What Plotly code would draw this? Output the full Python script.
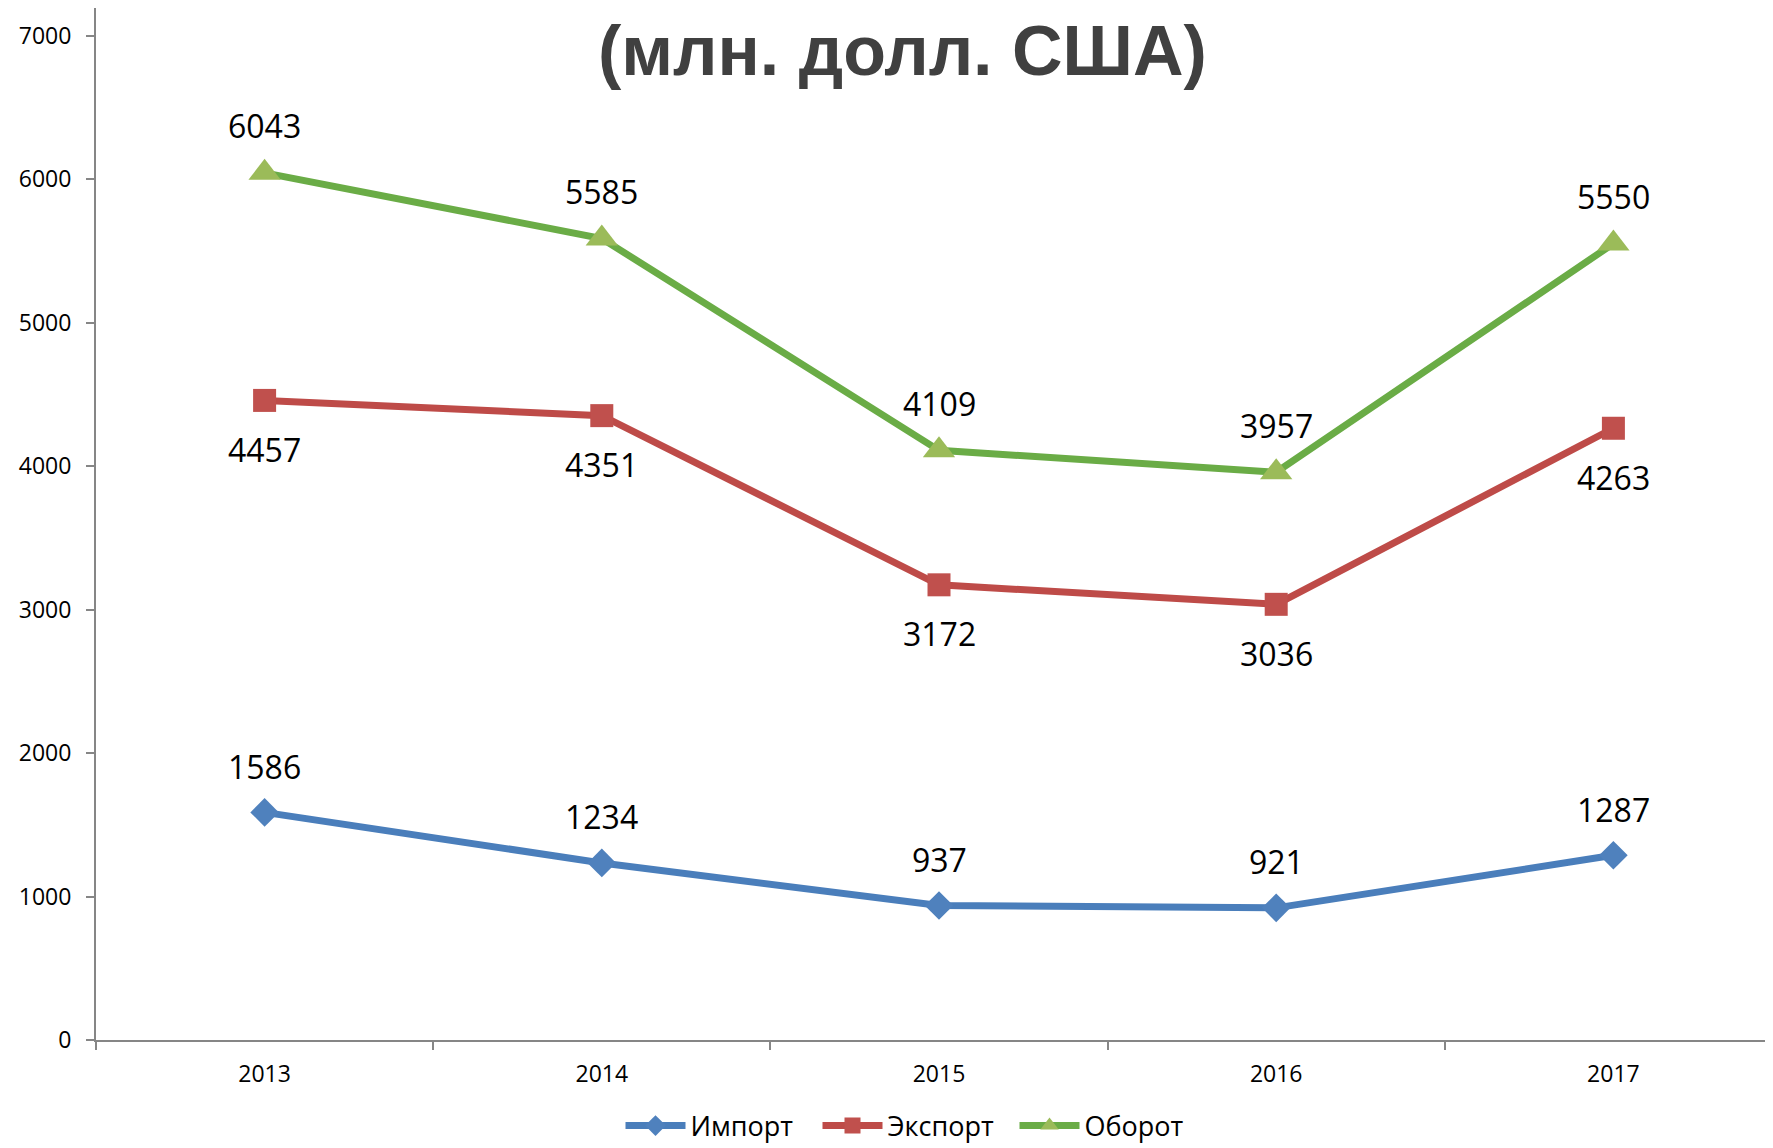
import plotly.graph_objects as go

years = ["2013", "2014", "2015", "2016", "2017"]
import_vals = [1586, 1234, 937, 921, 1287]
export_vals = [4457, 4351, 3172, 3036, 4263]
turnover_vals = [6043, 5585, 4109, 3957, 5550]

series_names = ["Импорт", "Экспорт", "Оборот"]
title_text = "(млн. долл. США)"
y_ticks = [0, 1000, 2000, 3000, 4000, 5000, 6000, 7000]

# page body has an 8px default margin; work in screen coords minus OFF
OFF = 8
W, H = 1773 - OFF, 1148 - OFF
AX_L, AX_T, AX_B = 96 - OFF, 7 - OFF, 1040 - OFF   # plot area edges in figure px
ML, MR, MT, MB = AX_L, 0, max(AX_T, 0), H - AX_B
plot_w = W - ML - MR
plot_h = H - MT - MB

fig = go.Figure()

fig.add_trace(go.Scatter(
    x=years, y=import_vals, name=series_names[0], mode="lines+markers",
    line=dict(color="#4A7EBB", width=7),
    marker=dict(symbol="diamond", size=22, color="#4F81BD"),
))
fig.add_trace(go.Scatter(
    x=years, y=export_vals, name=series_names[1], mode="lines+markers",
    line=dict(color="#BE4B48", width=7),
    marker=dict(symbol="square", size=23, color="#C0504D"),
))
fig.add_trace(go.Scatter(
    x=years, y=turnover_vals, name=series_names[2], mode="lines+markers",
    line=dict(color="#6AAC46", width=7),
    marker=dict(symbol="triangle-up", size=28, color="#9BBB59"),
))

annotations = []
label_font = dict(family="Open Sans, Noto Sans, sans-serif", size=32, color="#000000")
for vals, shift in ((import_vals, 46), (export_vals, -49), (turnover_vals, 47)):
    for i, yv in enumerate(vals):
        annotations.append(dict(
            x=i, y=yv, xref="x", yref="y", text=str(yv), showarrow=False,
            yshift=shift, yanchor="middle", xanchor="center", font=label_font,
        ))

title_cx, title_cy = 902 - OFF, 51 - OFF
annotations.append(dict(
    x=(title_cx - ML) / plot_w, y=(AX_B - title_cy) / plot_h,
    xref="paper", yref="paper", text="<b>" + title_text + "</b>",
    showarrow=False, xanchor="center", yanchor="middle",
    font=dict(family="Liberation Sans, Arial, sans-serif", size=70, color="#404040"),
))

unit_px = 337.2
x_max = -0.5 + plot_w / unit_px
y_px_per_unit = 143.5 / 1000
y_max = plot_h / y_px_per_unit

leg_cx, leg_cy = 916 - OFF, 1126 - OFF

fig.update_layout(
    width=W, height=H,
    margin=dict(l=ML, r=MR, t=MT, b=MB, pad=0),
    paper_bgcolor="white", plot_bgcolor="white",
    showlegend=True,
    legend=dict(
        orientation="h", xref="container", yref="container",
        x=leg_cx / W, y=1 - leg_cy / H,
        xanchor="center", yanchor="middle",
        font=dict(family="Open Sans, Noto Sans, sans-serif", size=27, color="#000000"),
        itemwidth=60, tracegroupgap=0, entrywidth=122,
    ),
    annotations=annotations,
    xaxis=dict(
        type="category", range=[-0.5, x_max],
        showline=True, linecolor="#868686", linewidth=2,
        ticks="outside", ticklen=8, tickcolor="#868686", tickwidth=1.5,
        tickson="boundaries", showgrid=False, zeroline=False,
        ticklabelstandoff=12,
        tickfont=dict(family="Open Sans, Noto Sans, sans-serif", size=23, color="#000000"),
    ),
    yaxis=dict(
        range=[0, y_max],
        tickvals=y_ticks, ticktext=[str(v) for v in y_ticks],
        showline=True, linecolor="#868686", linewidth=2,
        ticks="outside", ticklen=8, tickcolor="#868686", tickwidth=1.5,
        showgrid=False, zeroline=False,
        ticklabelstandoff=10,
        tickfont=dict(family="Open Sans, Noto Sans, sans-serif", size=23, color="#000000"),
    ),
)

fig.write_html("out.html")
